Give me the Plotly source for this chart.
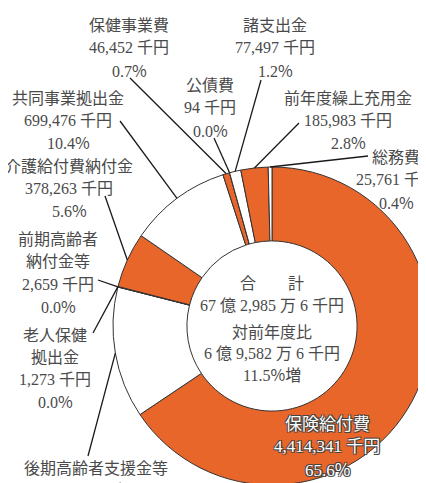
import math
import plotly.graph_objects as go

# ---- data (千円) ----
labels = ["保険給付費", "後期高齢者支援金等", "前期高齢者納付金等", "老人保健拠出金",
          "介護給付費納付金", "共同事業拠出金", "保健事業費", "公債費", "諸支出金",
          "前年度繰上充用金", "総務費"]
values = [4414341, 898057, 2659, 1273, 378263, 699476, 46452, 94, 77497, 185983, 25761]
percents = ["65.6%", "13.3%", "0.0%", "0.0%", "5.6%", "10.4%", "0.7%", "0.0%", "1.2%", "2.8%", "0.4%"]
label_lines = {
    "前期高齢者納付金等": ["前期高齢者", "納付金等"],
    "老人保健拠出金": ["老人保健", "拠出金"],
}
center_lines = ["合　　計", "67 億 2,985 万 6 千円", "対前年度比", "6 億 9,582 万 6 千円", "11.5%増"]

ORANGE = "#E8662A"
WHITE = "#FFFFFF"
colors = [ORANGE, WHITE, ORANGE, WHITE, ORANGE, WHITE, ORANGE, WHITE, WHITE, ORANGE, WHITE]

W, H = 426, 483
CX, CY, R = 264, 318, 159
HOLE = 0.535

def px(x):
    return x / W

def py(y):
    return 1 - y / H

def pct_html(s):
    return s.replace("%", '<span style="font-family:Noto Sans CJK JP">%</span>')

fig = go.Figure(go.Pie(
    labels=labels, values=values, sort=False, direction="clockwise", rotation=0,
    hole=HOLE, textinfo="none", hoverinfo="label+value+percent",
    marker=dict(colors=colors, line=dict(color="#333333", width=1)),
    domain=dict(x=[px(CX - R), px(CX + R)], y=[py(CY + R), py(CY - R)]),
    showlegend=False,
))

# label layout: (center x, first line y, leader start x, leader start y)
layout_pos = {
    "保健事業費": (121, 18, 122, 70),
    "公債費": (202, 78, 206, 130),
    "諸支出金": (267, 18, 253, 72),
    "前年度繰上充用金": (340, 90, 291, 115),
    "総務費": (388, 150, 360, 148),
    "共同事業拠出金": (60, 90, 112, 113),
    "介護給付費納付金": (61, 158, 97, 188),
    "前期高齢者納付金等": (50, 232, 90, 272),
    "老人保健拠出金": (47, 327, 85, 325),
    "後期高齢者支援金等": (88, 460, 80, 448),
}

FONT = "Liberation Serif, Noto Sans CJK JP, sans-serif"
TXT = "#4a4a4a"
LH = 22

total = sum(values)
cum = 0
annotations = []
shapes = []
for lab, v, pct in zip(labels, values, percents):
    mid = (cum + v / 2) / total * 2 * math.pi
    cum += v
    lines = label_lines.get(lab, [lab]) + [f"{v:,} 千円", pct_html(pct)]
    if lab == "保険給付費":
        cx0, y0 = 319, 416
        for i, t in enumerate(lines):
            annotations.append(dict(
                x=px(cx0), y=py(y0 + i * LH), xref="paper", yref="paper", text=t,
                showarrow=False, xanchor="center", yanchor="middle",
                font=dict(family=FONT, size=17, color="#ffffff",
                          shadow="1px 1px 0 #444, -1px -1px 0 #444, 1px -1px 0 #444, -1px 1px 0 #444"),
            ))
        continue
    cx0, y0, sx, sy = layout_pos[lab]
    for i, t in enumerate(lines):
        annotations.append(dict(
            x=px(cx0), y=py(y0 + i * LH), xref="paper", yref="paper", text=t,
            showarrow=False, xanchor="center", yanchor="middle",
            font=dict(family=FONT, size=16, color=TXT),
        ))
    ex = CX + R * math.sin(mid)
    ey = CY - R * math.cos(mid)
    shapes.append(dict(type="line", xref="paper", yref="paper",
                       x0=px(sx), y0=py(sy), x1=px(ex), y1=py(ey),
                       line=dict(color="#1a1a1a", width=1.3)))

center_y = [275, 297, 324, 345, 366]
for t, yy in zip(center_lines, center_y):
    annotations.append(dict(
        x=px(CX), y=py(yy), xref="paper", yref="paper", text=pct_html(t),
        showarrow=False, xanchor="center", yanchor="middle",
        font=dict(family=FONT, size=16, color=TXT),
    ))

fig.update_layout(
    width=W, height=H, margin=dict(l=0, r=0, t=0, b=0),
    paper_bgcolor="white", plot_bgcolor="white",
    annotations=annotations, shapes=shapes,
)
fig.write_html("out.html")
